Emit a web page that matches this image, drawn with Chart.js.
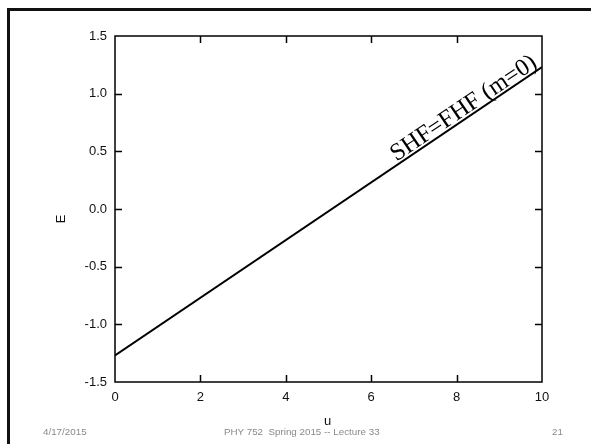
<!DOCTYPE html>
<html lang="en">
<head>
  <meta charset="UTF-8">
  <title>SHF=FHF (m=0)</title>
  <script src="https://cdn.jsdelivr.net/npm/chart.js"></script>
  <style>
    body {
      margin: 0;
      background: #fff;
      width: 591px;
      height: 444px;
      overflow: hidden;
      position: relative;
      font-family: Arial, "Liberation Sans", sans-serif;
    }
    .slide {
      position: absolute;
      left: 7px;
      top: 8px;
      width: 600px;
      height: 460px;
      border-left: 3px solid #111;
      border-top: 3px solid #111;
    }
    canvas {
      position: absolute;
      left: 0;
      top: 0;
    }
    .foot {
      position: absolute;
      top: 426px;
      font-size: 9.8px;
      color: #8a8a8a;
      white-space: pre;
    }
  </style>
</head>
<body>
  <div class="slide"></div>
  <canvas id="grafica" width="591" height="444"></canvas>
  <div class="foot" style="left:43px">4/17/2015</div>
  <div class="foot" style="left:224px">PHY 752  Spring 2015 -- Lecture 33</div>
  <div class="foot" style="left:552px">21</div>

  <script>
    // line E(u)
    const uVals = [0, 10];
    const eVals = [-1.27, 1.23];
    const uTicks = [0, 2, 4, 6, 8, 10];
    const eTicks = [-1.5, -1.0, -0.5, 0.0, 0.5, 1.0, 1.5];
    const curveLabel = 'SHF=FHF (m=0)';
    const labelAt = 6.63;

    const marcos = {
      id: 'marcos',
      afterDatasetsDraw(chart) {
        const { ctx, chartArea: a, scales: { x, y } } = chart;
        ctx.save();
        ctx.strokeStyle = '#000';
        ctx.lineWidth = 1.5;
        ctx.strokeRect(a.left, a.top, a.right - a.left, a.bottom - a.top);
        ctx.beginPath();
        uTicks.slice(1, -1).forEach(v => {
          const px = Math.round(x.getPixelForValue(v)) + 0.5;
          ctx.moveTo(px, a.bottom); ctx.lineTo(px, a.bottom - 7);
          ctx.moveTo(px, a.top); ctx.lineTo(px, a.top + 7);
        });
        eTicks.slice(1, -1).forEach(v => {
          const py = Math.round(y.getPixelForValue(v)) + 0.5;
          ctx.moveTo(a.left, py); ctx.lineTo(a.left + 7, py);
          ctx.moveTo(a.right, py); ctx.lineTo(a.right - 7, py);
        });
        ctx.stroke();

        // curve label along the line
        const x0 = x.getPixelForValue(uVals[0]), y0 = y.getPixelForValue(eVals[0]);
        const x1 = x.getPixelForValue(uVals[1]), y1 = y.getPixelForValue(eVals[1]);
        const ang = Math.atan2(y1 - y0, x1 - x0);
        const px = x.getPixelForValue(labelAt);
        const py = y0 + (px - x0) / (x1 - x0) * (y1 - y0);
        ctx.translate(px, py);
        ctx.rotate(ang);
        ctx.fillStyle = '#000';
        ctx.font = '24.5px "Liberation Serif", "Times New Roman", serif';
        ctx.textBaseline = 'alphabetic';
        ctx.fillText(curveLabel, 0, -3);
        ctx.restore();

        // axis titles
        ctx.save();
        ctx.fillStyle = '#111';
        ctx.font = '13px Arial, "Liberation Sans", sans-serif';
        ctx.textAlign = 'center';
        ctx.textBaseline = 'middle';
        ctx.fillText('u', (a.left + a.right) / 2 - 1, 421);
        ctx.translate(61, 219);
        ctx.rotate(-Math.PI / 2);
        ctx.fillText('E', 0, 0);
        ctx.restore();
      }
    };

    const ctx = document.getElementById('grafica').getContext('2d');
    new Chart(ctx, {
      type: 'scatter',
      data: {
        datasets: [{
          data: uVals.map((u, i) => ({ x: u, y: eVals[i] })),
          showLine: true,
          borderColor: '#000',
          borderWidth: 2,
          pointRadius: 0
        }]
      },
      options: {
        responsive: false,
        animation: false,
        layout: { padding: { left: 0, top: 36, right: 49, bottom: 0 } },
        plugins: {
          legend: { display: false },
          tooltip: { enabled: false }
        },
        scales: {
          x: {
            type: 'linear',
            min: 0,
            max: 10,
            afterBuildTicks: s => { s.ticks = uTicks.map(v => ({ value: v })); },
            afterFit: s => { s.height = 62; },
            grid: { display: false, drawTicks: false },
            border: { display: false },
            ticks: {
              padding: 8,
              color: '#111',
              font: { family: 'Arial, "Liberation Sans", sans-serif', size: 13 },
              callback: v => String(v)
            }
          },
          y: {
            min: -1.5,
            max: 1.5,
            afterBuildTicks: s => { s.ticks = eTicks.map(v => ({ value: v })); },
            afterFit: s => { s.width = 115; },
            grid: { display: false, drawTicks: false },
            border: { display: false },
            ticks: {
              padding: 8,
              color: '#111',
              font: { family: 'Arial, "Liberation Sans", sans-serif', size: 13 },
              callback: v => v.toFixed(1)
            }
          }
        }
      },
      plugins: [marcos]
    });
  </script>
</body>
</html>
